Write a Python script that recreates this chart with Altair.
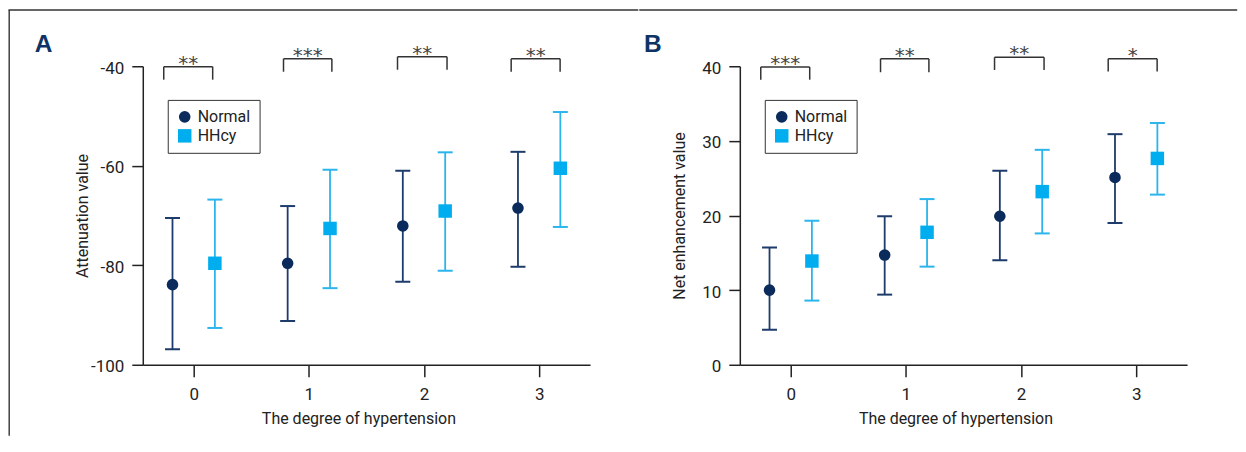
import altair as alt
import pandas as pd

# ---------------- data ----------------
degrees = [0, 1, 2, 3]
groups = ["Normal", "HHcy"]

a_normal_mean = [-83.9, -79.6, -72.1, -68.5]
a_normal_low = [-96.9, -91.2, -83.3, -80.3]
a_normal_high = [-70.5, -68.1, -61.0, -57.2]
a_hhcy_mean = [-79.6, -72.6, -69.1, -60.5]
a_hhcy_low = [-92.6, -84.6, -81.1, -72.3]
a_hhcy_high = [-66.8, -60.8, -57.3, -49.2]

b_normal_mean = [10.0, 14.7, 19.9, 25.1]
b_normal_low = [4.7, 9.4, 14.0, 19.0]
b_normal_high = [15.7, 19.9, 26.0, 30.9]
b_hhcy_mean = [13.9, 17.75, 23.2, 27.65]
b_hhcy_low = [8.6, 13.15, 17.6, 22.8]
b_hhcy_high = [19.3, 22.2, 28.8, 32.4]

a_stars = ["**", "***", "**", "**"]
b_stars = ["***", "**", "**", "*"]
a_bracket_top = [-40.1, -38.5, -38.1, -38.5]
a_bracket_leg = [-42.7, -41.1, -40.7, -41.1]
b_bracket_top = [39.9, 41.0, 41.2, 41.0]
b_bracket_leg = [38.2, 39.2, 39.5, 39.3]
bracket_left = [-0.26, -0.22, -0.23, -0.243]
bracket_right = [0.165, 0.2, 0.2, 0.182]

a_yticks = [-100, -80, -60, -40]
b_yticks = [0, 10, 20, 30, 40]

# ---------------- style ----------------
FONT = "Roboto"
FS = 17
FT = 16
TXT = "#222222"
LINE = "#333333"
point_colors = ["#0b2b5c", "#00adee"]
bar_colors = {"Normal": "#1d3b6b", "HHcy": "#2bb5ec"}
dodge = {"Normal": -0.184, "HHcy": 0.184}
W, H = 448, 299
LABEL_EXPR = "datum.value < 0 ? '-' + abs(datum.value) : '' + datum.value"


def points_df(nm, nl, nh, hm, hl, hh):
    rows = []
    for g, (m, lo, hi) in zip(groups, [(nm, nl, nh), (hm, hl, hh)]):
        for d, a, b, c in zip(degrees, m, lo, hi):
            rows.append(dict(degree=d, group=g, x=d + dodge[g], mean=a, low=b, high=c))
    return pd.DataFrame(rows)


def bracket_df(tops, legs, stars):
    rows = []
    for d, t, l, s, bl, br in zip(degrees, tops, legs, stars, bracket_left, bracket_right):
        rows.append(dict(x1=d + bl, x2=d + br, xm=d + (bl + br) / 2, top=t, leg=l, stars=s))
    return pd.DataFrame(rows)


def panel(pdf, bdf, ytitle, ydomain, yticks, letter, letter_x, line_x1, line_x2, left_line):
    xs = alt.Scale(domain=[-0.442, 3.442], nice=False, zero=False)
    ys = alt.Scale(domain=ydomain, nice=False, zero=False)
    xaxis = alt.Axis(values=degrees, labelExpr=LABEL_EXPR, grid=False,
                     title="The degree of hypertension",
                     tickSize=12, tickWidth=1.5, tickColor=TXT, domainColor=TXT, domainWidth=1.5,
                     labelFont=FONT, labelFontSize=FS, labelColor=TXT, labelPadding=23,
                     labelBaseline="alphabetic", labelFlush=False,
                     titleFont=FONT, titleFontSize=FT, titleFontWeight="normal", titleColor=TXT,
                     titleX=216, titleY=59, titleBaseline="alphabetic", titleAlign="center")
    yaxis = alt.Axis(values=yticks, labelExpr=LABEL_EXPR, grid=False, title=ytitle,
                     tickSize=11, tickWidth=1.5, tickColor=TXT, domainColor=TXT, domainWidth=1.5,
                     labelFont=FONT, labelFontSize=FS, labelColor=TXT, labelPadding=8,
                     labelBaseline="middle", labelOffset=2, labelFlush=False,
                     titleFont=FONT, titleFontSize=FT, titleFontWeight="normal", titleColor=TXT,
                     titleX=-55, titleY=H / 2, titleAngle=270, titleBaseline="alphabetic",
                     titleAlign="center")

    def X(f):
        return alt.X(f, scale=xs, axis=xaxis)

    def Y(f):
        return alt.Y(f, scale=ys, axis=yaxis)

    base_one = alt.Chart(pd.DataFrame({"k": [0]}))
    layers = []
    layers.append(base_one.mark_rule(color=LINE, strokeWidth=1.4, strokeCap="square").encode(
        x=alt.value(line_x1), x2=alt.value(line_x2), y=alt.value(-56.3)))
    if left_line:
        layers.append(base_one.mark_rule(color=LINE, strokeWidth=1.4).encode(
            x=alt.value(line_x1), y=alt.value(-56.3), y2=alt.value(370)))
    layers.append(base_one.mark_text(text=letter, font="Liberation Sans", fontWeight="bold",
                                     fontSize=24.5, color="#0e3465", align="left",
                                     baseline="alphabetic").encode(
        x=alt.value(letter_x), y=alt.value(-14.3)))

    bb = alt.Chart(bdf)
    br_style = dict(color=LINE, strokeWidth=1.5)
    layers.append(bb.mark_rule(**br_style).encode(x=X("x1:Q"), x2="x2:Q", y=Y("top:Q")))
    layers.append(bb.mark_rule(**br_style).encode(x=X("x1:Q"), y=Y("top:Q"), y2="leg:Q"))
    layers.append(bb.mark_rule(**br_style).encode(x=X("x2:Q"), y=Y("top:Q"), y2="leg:Q"))
    layers.append(bb.mark_text(font="DejaVu Sans", fontSize=20, color="#444444",
                               baseline="alphabetic", align="center", dy=3).encode(
        x=X("xm:Q"), y=Y("top:Q"), text="stars:N"))

    pb = alt.Chart(pdf)
    for g in groups:
        sub = pb.transform_filter(alt.datum.group == g)
        layers.append(sub.mark_rule(color=bar_colors[g], strokeWidth=1.8).encode(
            x=X("x:Q"), y=Y("low:Q"), y2="high:Q"))
        for f in ["low", "high"]:
            layers.append(sub.mark_tick(color=bar_colors[g], orient="horizontal", size=15,
                                        thickness=2, opacity=1).encode(x=X("x:Q"), y=Y(f + ":Q")))

    leg = alt.Legend(title=None, orient="none", legendX=25, legendY=33.7, padding=9,
                     strokeColor=LINE, labelFont=FONT, labelFontSize=FT, labelColor=TXT,
                     labelOffset=5, rowPadding=3, symbolStrokeWidth=0, symbolOpacity=1)
    layers.append(pb.mark_point(filled=True, opacity=1, strokeWidth=0).encode(
        x=X("x:Q"), y=Y("mean:Q"),
        color=alt.Color("group:N", scale=alt.Scale(domain=groups, range=point_colors), legend=leg),
        shape=alt.Shape("group:N", scale=alt.Scale(domain=groups, range=["circle", "square"]), legend=leg),
        size=alt.Size("group:N", scale=alt.Scale(domain=groups, range=[135, 182]), legend=leg),
    ))
    return alt.layer(*layers).properties(width=W, height=H)


pa = panel(points_df(a_normal_mean, a_normal_low, a_normal_high, a_hhcy_mean, a_hhcy_low, a_hhcy_high),
           bracket_df(a_bracket_top, a_bracket_leg, a_stars),
           "Attenuation value", [-100, -40], a_yticks, "A", -108.3, -133.8, 495.6, True)
pb_ = panel(points_df(b_normal_mean, b_normal_low, b_normal_high, b_hhcy_mean, b_hhcy_low, b_hhcy_high),
            bracket_df(b_bracket_top, b_bracket_leg, b_stars),
            "Net enhancement value", [0, 40], b_yticks, "B", -96, -100, 497.5, False)

chart = alt.hconcat(pa, pb_, spacing=0).resolve_scale(
    x="independent", y="independent", color="independent", shape="independent", size="independent"
).resolve_legend(color="independent", shape="independent", size="independent").properties(
    padding=0
).configure_view(stroke=None)

chart.save("out.html", embed_options={"renderer": "svg", "actions": False})
